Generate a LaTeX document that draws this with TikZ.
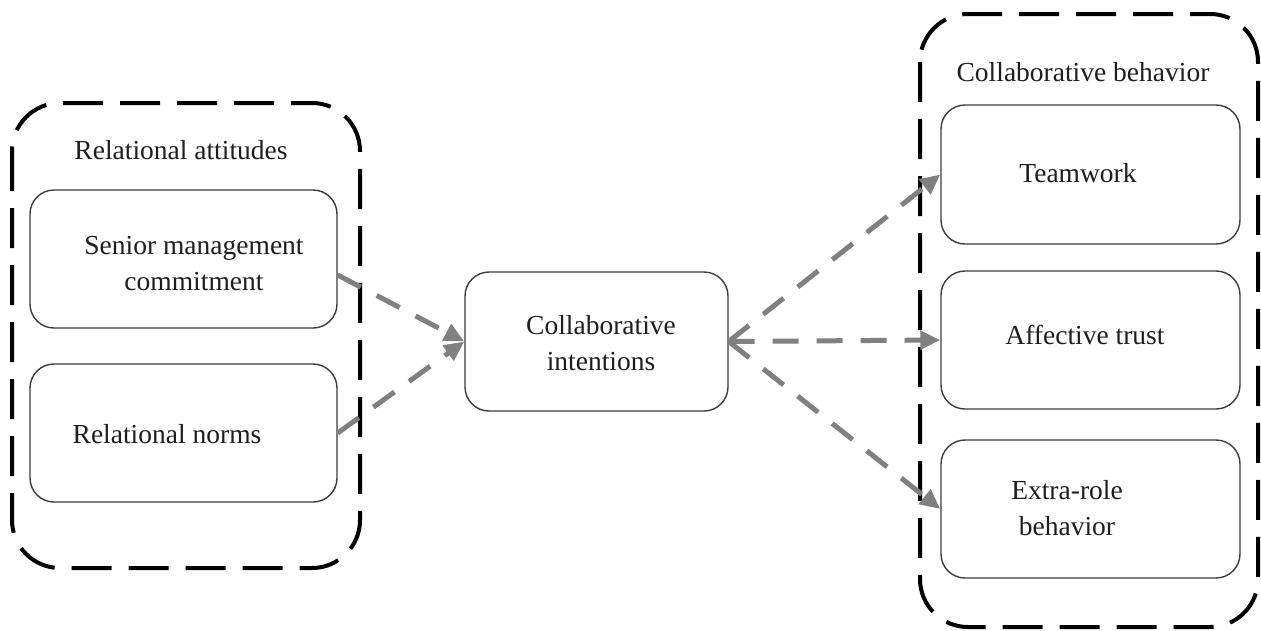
\documentclass[tikz,border=0pt]{standalone}
\usepackage{fontspec}
\setmainfont{Liberation Serif}
\usetikzlibrary{arrows.meta}
\definecolor{arrgray}{RGB}{128,128,128}
\definecolor{boxgray}{RGB}{60,60,60}
\definecolor{txt}{RGB}{30,30,30}
\begin{document}
\begin{tikzpicture}[x=1pt,y=-1pt,
  outerbox/.style={draw=black, line width=4pt, dash pattern=on 40pt off 17pt, rounded corners=48pt},
  innerbox/.style={draw=boxgray, line width=1.4pt, rounded corners=24pt, inner sep=0pt},
  lbl/.style={text=txt, font=\fontsize{27.5}{36}\selectfont, align=center, inner sep=0pt},
  flow/.style={draw=arrgray, line width=5pt, dash pattern=on 26pt off 18pt, -{Triangle[length=20pt,width=18pt]}}
]
\useasboundingbox (0,0) rectangle (1261,630);
% outer dashed groups
\draw[outerbox] (12,103) rectangle (360,568);
\draw[outerbox] (920,14) rectangle (1258,627);
\node[lbl] (tl) at (181,150) {Relational attitudes};
\node[lbl] (tr) at (1083,72) {Collaborative behavior};
% left boxes
\node[innerbox, minimum width=307pt, minimum height=138pt] (b1) at (183.5,259) {};
\node[innerbox, minimum width=307pt, minimum height=138pt] (b2) at (183.5,433) {};
\node[lbl] (t1) at (194,264) {Senior management\\commitment};
\node[lbl] (t2) at (167,434) {Relational norms};
% center box
\node[innerbox, minimum width=263pt, minimum height=139pt] (c) at (596.5,341.5) {};
\node[lbl] (tc) at (601,343) {Collaborative\\intentions};
% right boxes
\node[innerbox, minimum width=299pt, minimum height=139pt] (rA) at (1090.5,174.5) {};
\node[innerbox, minimum width=299pt, minimum height=138pt] (rB) at (1090.5,340) {};
\node[innerbox, minimum width=299pt, minimum height=138pt] (rC) at (1090.5,509) {};
\node[lbl] (tA) at (1078,173) {Teamwork};
\node[lbl] (tB) at (1085,335) {Affective trust};
\node[lbl] (tCc) at (1067,508) {Extra-role\\behavior};
% connectors
\draw[flow] ([yshift=-16pt]b1.east) -- (c.west);
\draw[flow] (b2.east) -- (c.west);
\draw[flow] (c.east) -- (rA.west);
\draw[flow] (c.east) -- (rB.west);
\draw[flow] (c.east) -- (rC.west);
\end{tikzpicture}
\end{document}
